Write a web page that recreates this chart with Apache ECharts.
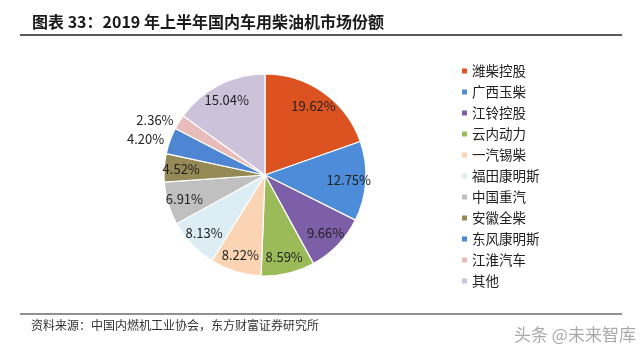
<!DOCTYPE html>
<html><head><meta charset="utf-8">
<script src="https://cdn.jsdelivr.net/npm/echarts@6/dist/echarts.min.js"></script>
<style>html,body{margin:0;padding:0;background:#fff;}#c{width:640px;height:355px;}</style>
</head><body><div id="c"></div>
<script>
const categories = ['潍柴控股','广西玉柴','江铃控股','云内动力','一汽锡柴','福田康明斯','中国重汽','安徽全柴','东风康明斯','江淮汽车','其他'];
const shares = [19.62, 12.75, 9.66, 8.59, 8.22, 8.13, 6.91, 4.52, 4.20, 2.36, 15.04];
const colors = ['#dc5220','#4d8cd8','#7c5fa7','#9bbb59','#fbd4b4','#dcedf3','#c0c0c0','#958a55','#4e86d3','#e8bcbb','#ccc2da'];
const outsideLabels = ['东风康明斯','江淮汽车'];
const titleText = '图表 33：2019 年上半年国内车用柴油机市场份额';
const sourceText = '资料来源：中国内燃机工业协会，东方财富证券研究所';

const chart = echarts.init(document.getElementById('c'), null, {renderer:'canvas'});
const fmt = p => p.value.toFixed(2) + '%';
const font = '"Noto Sans CJK SC", "Noto Sans", sans-serif';
const mainData = categories.map((n,i)=>({
  name:n, value:shares[i], itemStyle:{color:colors[i]},
  label: outsideLabels.includes(n) ? {show:true, position:'outside'} : {show:false}
}));
const labelData = categories.map((n,i)=>({
  name:n, value:shares[i],
  label:{show: !outsideLabels.includes(n)}
}));
chart.setOption({
  animation:false,
  color: colors,
  textStyle:{fontFamily:font},
  graphic:[
    {type:'text', left:32, top:14, style:{text:titleText, font:'bold 16px '+font, fill:'#1a1a1a'}},
    {type:'line', shape:{x1:20,y1:35,x2:622,y2:35}, style:{stroke:'#222', lineWidth:1.5}},
    {type:'line', shape:{x1:20,y1:314,x2:622,y2:314}, style:{stroke:'#222', lineWidth:1.2}},
    {type:'text', left:31, top:319, style:{text:sourceText, font:'12px '+font, fill:'#333'}},
    {type:'text', left:514, top:326, style:{text:'头条 @未来智库', font:'17px '+font, fill:'#aaa'}}
  ],
  legend:{
    orient:'vertical', left:460, top:64, padding:0,
    itemWidth:7, itemHeight:7, itemGap:7, icon:'rect',
    textStyle:{fontSize:13.5, lineHeight:14, color:'#222', padding:[0,0,0,-1]},
    data: categories
  },
  series:[
    {
      type:'pie', center:[265,175], radius:[0,101], startAngle:90, clockwise:true,
      avoidLabelOverlap:false, silent:true,
      itemStyle:{borderColor:'#fff', borderWidth:1.2},
      label:{formatter:fmt, fontSize:13, color:'#222', distanceToLabelLine:2},
      labelLine:{show:false, length:4, length2:0},
      data: mainData
    },
    {
      type:'pie', center:[265,175], radius:[0,162], startAngle:90, clockwise:true,
      avoidLabelOverlap:false, silent:true, legendHoverLink:false,
      itemStyle:{color:'rgba(0,0,0,0)', borderWidth:0},
      label:{position:'inside', formatter:fmt, fontSize:13, color:'#222'},
      labelLine:{show:false},
      data: labelData
    }
  ]
});
</script></body></html>
